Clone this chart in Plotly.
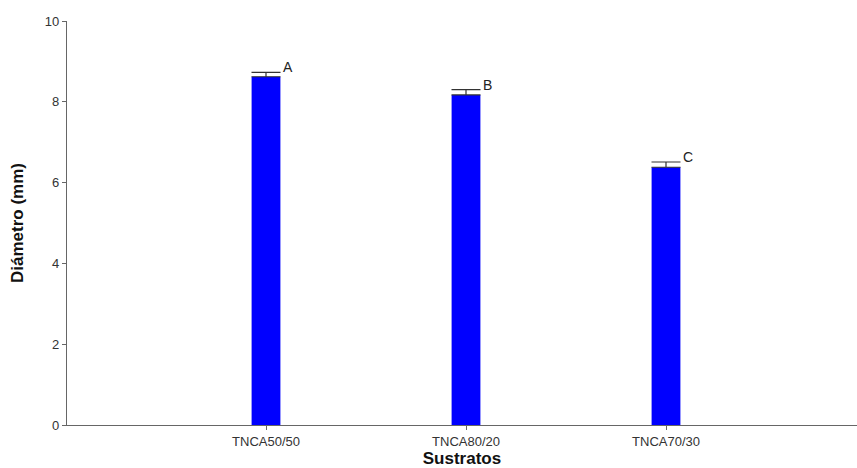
import plotly.graph_objects as go

categories = ["TNCA50/50", "TNCA80/20", "TNCA70/30"]
means = [8.62, 8.17, 6.38]
errors = [0.11, 0.13, 0.13]
letters = ["A", "B", "C"]

xpos = list(range(len(categories)))

fig = go.Figure()
fig.add_trace(go.Bar(
    x=xpos, y=means, width=0.144,
    marker=dict(color="#0000FF", line=dict(width=0)),
    error_y=dict(type="data", array=errors, arrayminus=[0]*len(errors), symmetric=False,
                 color="#333333", thickness=1.2, width=14.5),
    showlegend=False,
))

for i, (m, e, l) in enumerate(zip(means, errors, letters)):
    fig.add_annotation(x=i, y=m + e, text=l, showarrow=False, xanchor="left", yanchor="middle",
                       xshift=15, yshift=5, font=dict(family="Arial, Liberation Sans", size=14, color="#222222"))

fig.update_layout(
    width=857, height=468,
    margin=dict(l=67, r=0, t=21, b=43),
    plot_bgcolor="white", paper_bgcolor="white",
    font=dict(family="Arial, Liberation Sans", size=13, color="#333333"),
    xaxis=dict(range=[-0.995, 2.955], tickmode="array", tickvals=xpos, ticktext=categories,
               showline=True, linecolor="#666666", linewidth=1.2, ticks="outside", ticklen=4,
               tickcolor="#666666", showgrid=False, zeroline=False,
               title=dict(text="<b>Sustratos</b>", font=dict(size=17, color="#111111"), standoff=7)),
    yaxis=dict(range=[0, 10], tickvals=[0, 2, 4, 6, 8, 10], showline=True, linecolor="#666666",
               linewidth=1.2, ticks="outside", ticklen=4, tickcolor="#666666", showgrid=False,
               zeroline=False,
               title=dict(text="<b>Diámetro (mm)</b>", font=dict(size=17, color="#111111"), standoff=16)),
)

fig.write_html("out.html")
